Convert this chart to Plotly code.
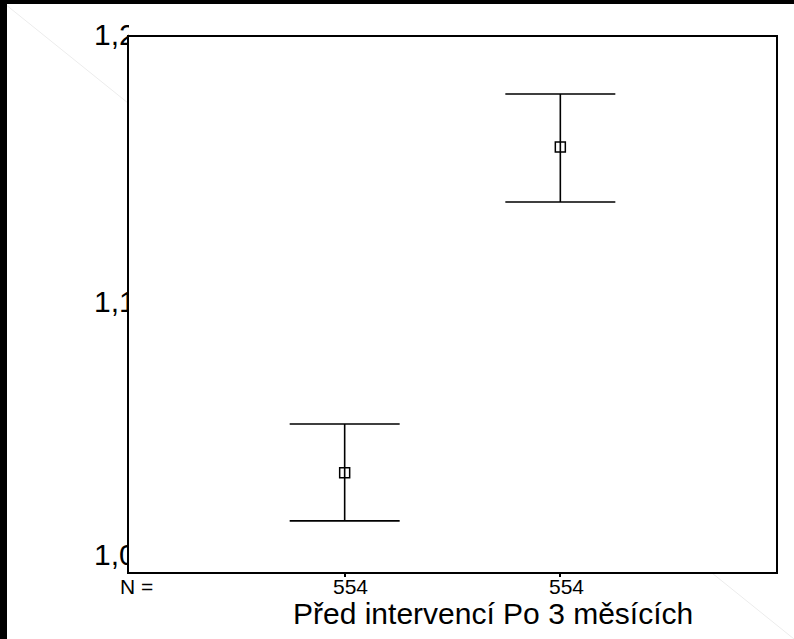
import plotly.graph_objects as go

# ---- data ----
categories = ["Před intervencí", "Po 3 měsících"]
means = [1.0371, 1.1589]
upper = [1.0553, 1.1787]
lower = [1.0191, 1.1383]
n_counts = ["554", "554"]
y_tick_vals = [1.0, 1.1, 1.2]
y_tick_text = ["1,0", "1,1", "1,2"]
y_range = [1.0, 1.2]

# ---- geometry (pixels) ----
W, H = 794, 639
PL, PR, PT, PB = 129, 776, 37, 572
FONT = "Liberation Sans, Arial, sans-serif"

xs = list(range(1, len(categories) + 1))
err_plus = [u - m for u, m in zip(upper, means)]
err_minus = [m - l for m, l in zip(means, lower)]

fig = go.Figure()
fig.add_trace(go.Scatter(
    x=xs, y=means, mode="markers",
    marker=dict(symbol="square-open", size=10, color="black", line=dict(width=1.5, color="black")),
    error_y=dict(type="data", symmetric=False, array=err_plus, arrayminus=err_minus,
                 color="black", thickness=1.6, width=55, visible=True),
    showlegend=False, hoverinfo="skip",
))

# y tick labels drawn in a side subplot so that they are clipped by the plot frame
per_px = (y_range[1] - y_range[0]) / (PB - PT)
y2_range = [y_range[0] - (H - PB) * per_px, y_range[1] + PT * per_px]
fig.add_trace(go.Scatter(
    x=[94] * len(y_tick_vals), y=y_tick_vals, text=y_tick_text, mode="text",
    textposition=["top right", "middle right", "middle right"],
    textfont=dict(family=FONT, size=30, color="black"),
    cliponaxis=True, xaxis="x2", yaxis="y2", showlegend=False, hoverinfo="skip",
))

fig.update_layout(
    width=W, height=H,
    margin=dict(l=0, r=0, t=0, b=0),
    paper_bgcolor="white", plot_bgcolor="white",
    xaxis=dict(domain=[PL / W, PR / W], range=[0, len(categories) + 1],
               showgrid=False, zeroline=False, showline=True, mirror=True,
               linecolor="black", linewidth=1.6,
               tickvals=xs, ticktext=["", ""], ticks="outside", ticklen=3,
               tickcolor="black", tickwidth=2),
    yaxis=dict(domain=[(H - PB) / H, (H - PT) / H], range=y_range,
               showgrid=False, zeroline=False, showline=True, mirror=True,
               linecolor="black", linewidth=1.6, showticklabels=False, ticks=""),
    xaxis2=dict(domain=[0, PL / W], range=[0, PL], visible=False, anchor="y2"),
    yaxis2=dict(domain=[0, 1], range=y2_range, visible=False, anchor="x2"),
)

# faint diagonal behind the plot frame (covered by a white plot-area rectangle)
fig.add_shape(type="line", xref="paper", yref="paper", x0=0, y0=1, x1=1, y1=0,
              line=dict(color="#ececec", width=1), layer="below")
fig.add_shape(type="rect", xref="paper", yref="paper",
              x0=PL / W, x1=PR / W, y0=(H - PB) / H, y1=(H - PT) / H,
              fillcolor="white", line=dict(width=0), layer="below")
# black frame strips on top and left
fig.add_shape(type="rect", xref="paper", yref="paper", x0=0, x1=1, y0=1 - 4 / H, y1=1,
              fillcolor="black", line=dict(width=0), layer="above")
fig.add_shape(type="rect", xref="paper", yref="paper", x0=0, x1=7 / W, y0=0, y1=1,
              fillcolor="black", line=dict(width=0), layer="above")

# N counts row
fig.add_annotation(x=136 / W, y=1 - 586 / H, xref="paper", yref="paper", text="N =",
                   xanchor="center", yanchor="middle",
                   showarrow=False, font=dict(family=FONT, size=21, color="black"))
for xi, n in zip(xs, n_counts):
    fig.add_annotation(x=xi, y=1 - 586 / H, xref="x", yref="paper", text=n, xshift=6,
                       xanchor="center", yanchor="middle",
                       showarrow=False, font=dict(family=FONT, size=21, color="black"))

# category labels row
fig.add_annotation(x=493 / W, y=1 - 613 / H, xref="paper", yref="paper",
                   text=" ".join(categories), showarrow=False,
                   xanchor="center", yanchor="middle",
                   font=dict(family=FONT, size=30, color="black"))

fig.write_html("out.html", config={"displayModeBar": False},
               post_script="document.body.style.margin='0px';")
